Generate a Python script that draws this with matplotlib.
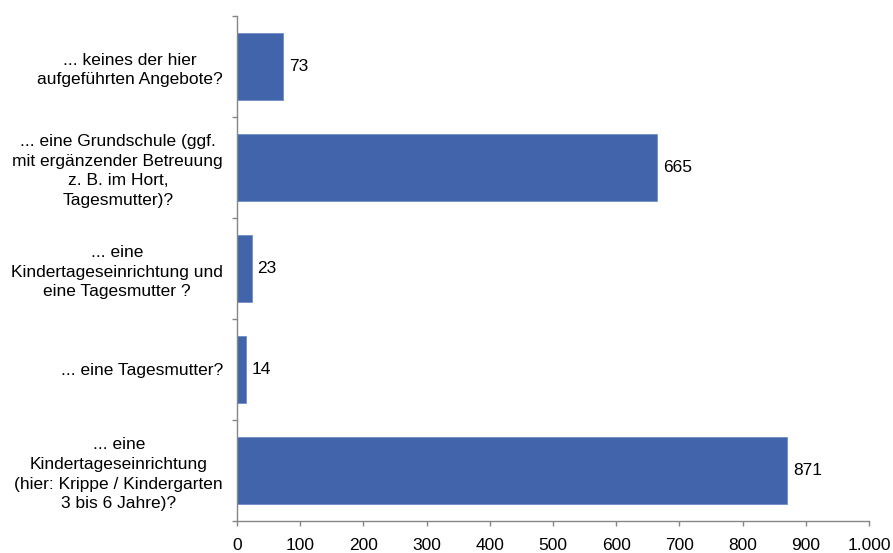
import matplotlib
matplotlib.use("Agg")
import matplotlib.pyplot as plt
from matplotlib.ticker import FuncFormatter, FixedLocator

categories = [
    "... keines der hier\naufgeführten Angebote?",
    "... eine Grundschule (ggf.\nmit ergänzender Betreuung\nz. B. im Hort,\nTagesmutter)?",
    "... eine\nKindertageseinrichtung und\neine Tagesmutter ?",
    "... eine Tagesmutter?",
    "... eine\nKindertageseinrichtung\n(hier: Krippe / Kindergarten\n3 bis 6 Jahre)?",
]
values = [73, 665, 23, 14, 871]
x_ticks = [0, 100, 200, 300, 400, 500, 600, 700, 800, 900, 1000]

plt.rcParams['font.family'] = ['Liberation Sans', 'DejaVu Sans']
plt.rcParams['font.size'] = 12.5

fig = plt.figure(figsize=(8.93, 5.53), dpi=100)
W, H = 893, 553
ax = fig.add_axes([237 / W, 1 - 520.7 / H, (869 - 237) / W, (520.7 - 15.7) / H])

n = len(categories)
pos = list(range(n))[::-1]  # first category at top
bar_color = "#4164AA"
ax.barh(pos, values, height=0.66, color=bar_color, edgecolor="#6F8FC8", linewidth=0.6)

for p, v in zip(pos, values):
    ax.text(v + 9, p, f"{v}", va="center", ha="left", fontsize=12.5, color="#000000")

ax.set_xlim(0, 1000)
ax.set_ylim(-0.5, n - 0.5)
ax.xaxis.set_major_locator(FixedLocator(x_ticks))
ax.xaxis.set_major_formatter(FuncFormatter(lambda x, _: f"{int(x):,}".replace(",", ".")))

ax.set_yticks(pos)
ax.set_yticklabels(categories, ha="right", multialignment="center", linespacing=1.4)
ax.yaxis.set_minor_locator(FixedLocator([i - 0.5 for i in range(n + 1)]))
ax.tick_params(axis="y", which="major", length=0, pad=10)
ax.tick_params(axis="y", which="minor", length=3.6, color="#868686", width=1)
ax.tick_params(axis="x", which="major", length=3.6, color="#868686", width=1, pad=9, labelsize=12.5)

for s in ["top", "right"]:
    ax.spines[s].set_visible(False)
for s in ["left", "bottom"]:
    ax.spines[s].set_color("#868686")
    ax.spines[s].set_linewidth(1)

fig.savefig("out.png", dpi=100)
